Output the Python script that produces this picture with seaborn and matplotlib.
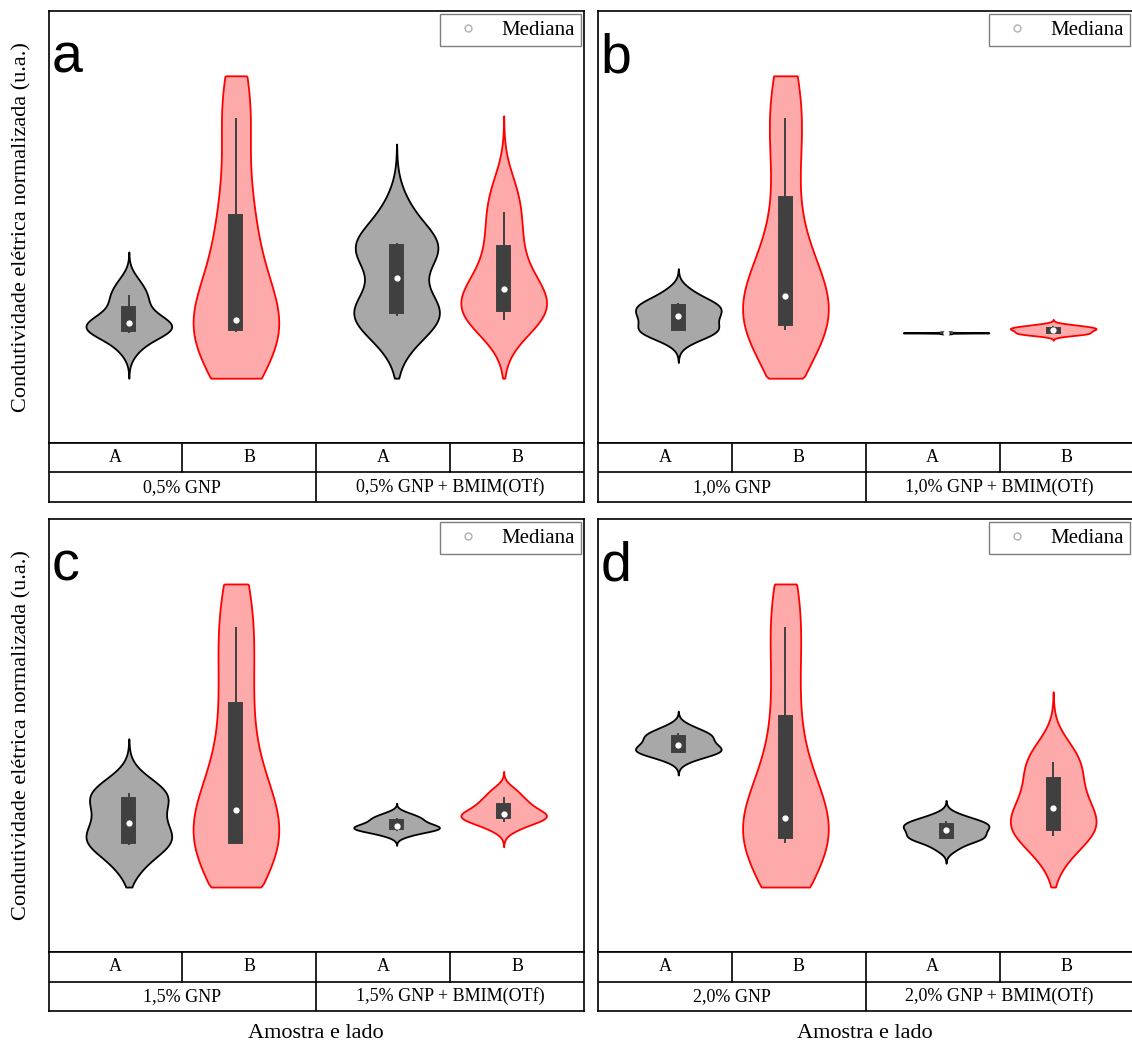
import matplotlib

matplotlib.use("Agg")

import numpy as np
import pandas as pd
import matplotlib.pyplot as plt
from matplotlib.lines import Line2D
import seaborn as sns


CONCENTRATIONS = ["0,5%", "1,0%", "1,5%", "2,0%"]
PANEL_LETTERS = ["a", "b", "c", "d"]
SIDES = ["A", "B"]
MATRICES = ["GNP", "GNP + BMIM(OTf)"]

# normalized electrical conductivity (u.a.)
gnp05_a = [2.20, 2.55, 2.58, 2.60, 2.70, 2.78, 2.85, 3.00, 3.30, 3.43, 3.72]
gnp05_b = [2.00, 2.57, 2.60, 2.64, 2.75, 2.85, 4.00, 4.96, 5.60, 7.52, 8.10]
bmim05_a = [2.40, 2.95, 3.00, 3.02, 3.10, 3.82, 4.45, 4.55, 4.60, 4.62, 5.40]
bmim05_b = [2.80, 2.84, 3.00, 3.12, 3.40, 3.56, 3.75, 4.30, 4.82, 5.35, 5.90]

gnp10_a = [2.40, 2.60, 2.62, 2.62, 2.85, 2.94, 3.00, 3.15, 3.23, 3.23, 3.50]
gnp10_b = [2.62, 2.62, 2.70, 2.76, 3.30, 3.40, 3.90, 4.90, 6.48, 7.52, 8.30]
bmim10_a = [2.530, 2.545, 2.548, 2.550, 2.550, 2.550, 2.550, 2.552, 2.555, 2.555, 2.570]
bmim10_b = [2.50, 2.52, 2.55, 2.56, 2.60, 2.62, 2.64, 2.66, 2.68, 2.70, 2.74]

gnp15_a = [2.00, 2.47, 2.50, 2.54, 2.80, 2.98, 3.20, 3.50, 3.62, 3.67, 3.95]
gnp15_b = [2.00, 2.52, 2.52, 2.52, 2.90, 3.28, 3.90, 5.20, 6.30, 7.51, 8.20]
bmim15_a = [2.70, 2.80, 2.82, 2.84, 2.88, 2.91, 2.94, 3.00, 3.08, 3.10, 3.20]
bmim15_b = [2.85, 3.00, 3.05, 3.12, 3.15, 3.19, 3.25, 3.38, 3.45, 3.58, 3.75]

gnp20_a = [4.45, 4.60, 4.62, 4.63, 4.72, 4.78, 4.85, 4.95, 5.02, 5.05, 5.20]
gnp20_b = [2.00, 2.52, 2.60, 2.66, 2.90, 3.09, 3.60, 4.80, 6.10, 7.51, 8.20]
bmim20_a = [2.40, 2.60, 2.62, 2.64, 2.75, 2.82, 2.88, 2.93, 2.99, 3.02, 3.15]
bmim20_b = [2.20, 2.68, 2.78, 2.86, 3.10, 3.33, 3.50, 3.85, 4.19, 4.39, 4.75]

SAMPLES = {
    ("0,5%", "GNP", "A"): gnp05_a,
    ("0,5%", "GNP", "B"): gnp05_b,
    ("0,5%", "GNP + BMIM(OTf)", "A"): bmim05_a,
    ("0,5%", "GNP + BMIM(OTf)", "B"): bmim05_b,
    ("1,0%", "GNP", "A"): gnp10_a,
    ("1,0%", "GNP", "B"): gnp10_b,
    ("1,0%", "GNP + BMIM(OTf)", "A"): bmim10_a,
    ("1,0%", "GNP + BMIM(OTf)", "B"): bmim10_b,
    ("1,5%", "GNP", "A"): gnp15_a,
    ("1,5%", "GNP", "B"): gnp15_b,
    ("1,5%", "GNP + BMIM(OTf)", "A"): bmim15_a,
    ("1,5%", "GNP + BMIM(OTf)", "B"): bmim15_b,
    ("2,0%", "GNP", "A"): gnp20_a,
    ("2,0%", "GNP", "B"): gnp20_b,
    ("2,0%", "GNP + BMIM(OTf)", "A"): bmim20_a,
    ("2,0%", "GNP + BMIM(OTf)", "B"): bmim20_b,
}

FILL = {"A": "#a8a8a8", "B": "#ffaaaa"}
EDGE = {"A": "#000000", "B": "#ff0000"}
BOX = "#404040"
KDE_RANGE = (1.5, 8.5)
SERIF = ["Liberation Serif", "DejaVu Serif"]

W, H = 1132, 1043
# (left, top, plot bottom, table middle, table bottom, right) in pixels
PANELS = [
    (48.5, 11, 443, 472, 502, 584),
    (598, 11, 443, 472, 502, 1133.5),
    (48.5, 519, 952, 982, 1011, 584),
    (598, 519, 952, 982, 1011, 1133.5),
]

sns.set_theme(style="white", rc={
    "axes.edgecolor": "black", "axes.linewidth": 1.2,
    "text.color": "black", "axes.labelcolor": "black",
})
plt.rcParams["font.family"] = SERIF

records = [
    {"conc": conc, "group": f"{conc} {matrix}", "side": side, "value": v}
    for (conc, matrix, side), values in SAMPLES.items()
    for v in values
]
data = pd.DataFrame(records)


def px_rect(left, top, right, bottom):
    return [left / W, 1 - bottom / H, (right - left) / W, (bottom - top) / H]


def draw_panel(fig, geom, conc, letter):
    left, top, plot_bottom, mid, bottom, right = geom
    frame = data[data["conc"] == conc]
    groups = [f"{conc} {matrix}" for matrix in MATRICES]

    ax = fig.add_axes(px_rect(left, top, right, plot_bottom))
    for side in SIDES:
        sns.violinplot(
            data=frame[frame["side"] == side], x="group", y="value", hue="side",
            order=groups, hue_order=SIDES, dodge=True, width=0.8, gap=0.2,
            density_norm="width", cut=3, bw_adjust=0.85, inner=None,
            palette=FILL, saturation=1, linecolor=EDGE[side], linewidth=1.3,
            legend=False, ax=ax,
        )
    # the curves only span the common range of the measurements
    for coll in ax.collections:
        verts = [np.column_stack([p.vertices[:, 0], np.clip(p.vertices[:, 1], *KDE_RANGE)]) for p in coll.get_paths()]
        coll.set_verts(verts)

    sns.boxplot(
        data=frame, x="group", y="value", hue="side", order=groups, hue_order=SIDES,
        dodge=True, width=0.8, gap=0.88, whis=(10, 90), showfliers=False, showcaps=False,
        palette={side: BOX for side in SIDES}, saturation=1, linecolor=BOX, linewidth=1.4,
        medianprops={"linewidth": 0}, legend=False, ax=ax,
    )
    sns.pointplot(
        data=frame, x="group", y="value", hue="side", order=groups, hue_order=SIDES,
        estimator="median", errorbar=None, dodge=0.4, markers="o", linestyles="none",
        palette={side: "white" for side in SIDES}, markersize=4.5, markeredgewidth=0,
        legend=False, zorder=5, ax=ax,
    )
    ax.set_xlim(-0.5, 1.5)
    ax.set_ylim(0, 10)
    ax.set_xticks([])
    ax.set_yticks([])
    ax.set_xlabel("")
    ax.set_ylabel("")
    ax.text(0.005, 0.858, letter, transform=ax.transAxes, fontsize=40, color="black",
            family=["Liberation Sans", "DejaVu Sans"], va="baseline", ha="left")
    handle = Line2D([], [], marker="o", linestyle="none", markerfacecolor="white",
                    markeredgecolor="#b0b0b0", markersize=5)
    ax.legend([handle], ["Mediana"], loc="upper right", fontsize=15, frameon=True,
              fancybox=False, edgecolor="#7f7f7f", framealpha=1, borderaxespad=0.15,
              borderpad=0.3, handlelength=2.1, handletextpad=0.55)

    table = fig.add_axes(px_rect(left, plot_bottom, right, bottom))
    table.set_xlim(0, 4)
    table.set_ylim(0, 2)
    table.set_xticks([])
    table.set_yticks([])
    table.axhline(1, color="black", linewidth=1.2)
    for x in (1, 3):
        table.plot([x, x], [1, 2], color="black", linewidth=1.2)
    table.plot([2, 2], [0, 2], color="black", linewidth=1.2)
    for i, side in enumerate(SIDES * 2):
        table.text(i + 0.5, 1.5, side, ha="center", va="center", fontsize=13)
    for i, group in enumerate(groups):
        table.text(2 * i + 1, 0.5, group, ha="center", va="center", fontsize=13)
    return ax


fig = plt.figure(figsize=(W / 100, H / 100), dpi=100)
for geom, conc, letter in zip(PANELS, CONCENTRATIONS, PANEL_LETTERS):
    draw_panel(fig, geom, conc, letter)

for y_center in (227, 735.5):
    fig.text(22 / W, 1 - y_center / H, "Condutividade elétrica normalizada (u.a.)",
             rotation=90, ha="center", va="center", fontsize=16)
for x_center in (316, 865):
    fig.text(x_center / W, 1 - 1033 / H, "Amostra e lado", ha="center", va="center", fontsize=16)

fig.savefig("out.png", dpi=100)
